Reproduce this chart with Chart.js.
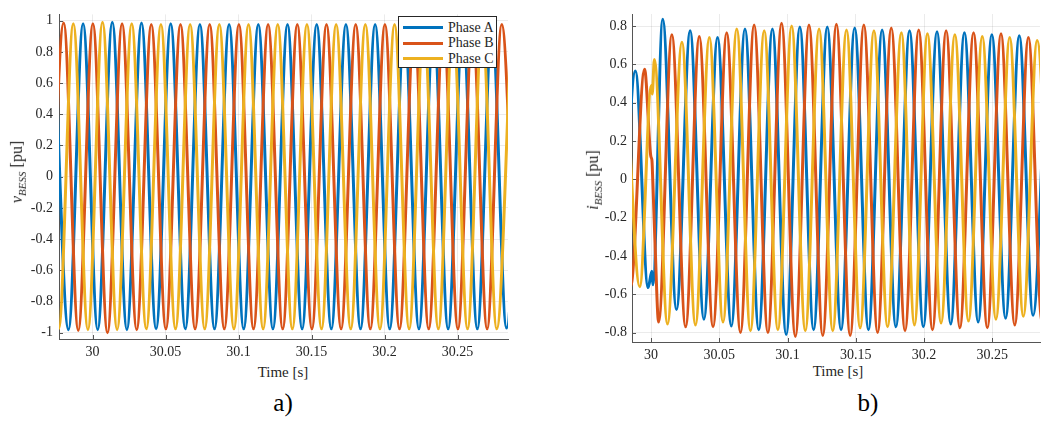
<!DOCTYPE html>
<html>
<head>
<meta charset="utf-8">
<script src="https://cdn.jsdelivr.net/npm/chart.js@4"></script>
<style>
  body { margin: 0; background: #fff; }
  #wrap { position: relative; width: 1043px; height: 421px; font-family: 'Liberation Serif', 'DejaVu Serif', serif; color: #262626; }
  canvas { position: absolute; top: 0; }
  .ylab { position: absolute; transform: translate(-50%, -50%) rotate(-90deg); white-space: nowrap; font-size: 16px; }
  .ylab sub { font-size: 11px; }
  .xlab { position: absolute; transform: translate(-50%, -50%); white-space: nowrap; font-size: 15px; }
  .cap { position: absolute; transform: translate(-50%, -50%); font-size: 25px; color: #000; }
  #legend { position: absolute; left: 398px; top: 16px; width: 97px; height: 50px; border: 1px solid #262626; background: #fff; }
  #legend .row { position: absolute; left: 4px; height: 15px; display: flex; align-items: center; font-size: 14px; }
  #legend .swatch { width: 40px; height: 3px; margin-right: 5px; }
</style>
</head>
<body>
<div id="wrap">
  <canvas id="chartV" width="520" height="362" style="left:0"></canvas>
  <canvas id="chartI" width="468" height="362" style="left:575px"></canvas>
  <div id="legend"></div>
  <div class="ylab" style="left:18px;top:172px"><i>v</i><sub><i>BESS</i></sub> [pu]</div>
  <div class="ylab" style="left:594px;top:180px"><i>i</i><sub><i>BESS</i></sub> [pu]</div>
  <div class="xlab" style="left:283px;top:372px">Time [s]</div>
  <div class="xlab" style="left:838px;top:371px">Time [s]</div>
  <div class="cap" style="left:283px;top:403px">a)</div>
  <div class="cap" style="left:868px;top:403px">b)</div>
</div>
<script>
// tick labels
const xTicks = [30, 30.05, 30.1, 30.15, 30.2, 30.25];
const yTicksV = [-1, -0.8, -0.6, -0.4, -0.2, 0, 0.2, 0.4, 0.6, 0.8, 1];
const yTicksI = [-0.8, -0.6, -0.4, -0.2, 0, 0.2, 0.4, 0.6, 0.8];

const phaseNames = ['Phase A', 'Phase B', 'Phase C'];
const phaseColors = ['#0072BD', '#D95319', '#EDB120'];

// a) voltage: peaks / troughs
const vTimeA = [29.9735, 29.9835, 29.9935, 30.0035, 30.0135, 30.0235, 30.0335, 30.0435, 30.0535, 30.0635, 30.0735,
  30.0835, 30.0935, 30.1035, 30.1135, 30.1235, 30.1335, 30.1435, 30.1535, 30.1635, 30.1735, 30.1835, 30.1935,
  30.2035, 30.2135, 30.2235, 30.2335, 30.2435, 30.2535, 30.2635, 30.2735, 30.2835, 30.2935];
const vPhaseA = [0.98, -0.98, 0.98, -0.98, 0.99, -0.98, 0.985, -0.975, 0.98, -0.975, 0.975,
  -0.975, 0.975, -0.975, 0.975, -0.975, 0.975, -0.975, 0.975, -0.975, 0.975, -0.975, 0.975,
  -0.975, 0.975, -0.975, 0.975, -0.975, 0.975, -0.975, 0.975, -0.97, 0.975];
const vTimeB = [29.9702, 29.9802, 29.9902, 30.0002, 30.0102, 30.0202, 30.0302, 30.0402, 30.0502, 30.0602, 30.0702,
  30.0802, 30.0902, 30.1002, 30.1102, 30.1202, 30.1302, 30.1402, 30.1502, 30.1602, 30.1702, 30.1802, 30.1902,
  30.2002, 30.2102, 30.2202, 30.2302, 30.2402, 30.2502, 30.2602, 30.2702, 30.2802, 30.2902];
const vPhaseB = [-0.98, 0.985, -0.985, 0.98, -1.0, 0.98, -0.98, 0.975, -0.975, 0.975, -0.975,
  0.975, -0.975, 0.975, -0.975, 0.975, -0.975, 0.975, -0.975, 0.975, -0.975, 0.975, -0.975,
  0.975, -0.975, 0.975, -0.975, 0.975, -0.975, 0.975, -0.975, 0.975, -0.975];
const vTimeC = [29.9668, 29.9768, 29.9868, 29.9968, 30.0068, 30.0168, 30.0268, 30.0368, 30.0468, 30.0568, 30.0668,
  30.0768, 30.0868, 30.0968, 30.1068, 30.1168, 30.1268, 30.1368, 30.1468, 30.1568, 30.1668, 30.1768, 30.1868,
  30.1968, 30.2068, 30.2168, 30.2268, 30.2368, 30.2468, 30.2568, 30.2668, 30.2768, 30.2868];
const vPhaseC = [0.98, -0.975, 0.98, -0.98, 0.99, -0.98, 0.98, -0.975, 0.975, -0.975, 0.975,
  -0.975, 0.975, -0.975, 0.975, -0.975, 0.975, -0.975, 0.975, -0.975, 0.975, -0.975, 0.975,
  -0.975, 0.975, -0.975, 0.975, -0.975, 0.975, -0.975, 0.975, -0.975, 0.975];

// b) current: peaks / troughs plus the few points of the transient
const iTimeA = [29.9785, 29.9885, 29.9978, 30.0006, 30.0013, 30.0085, 30.0186, 30.0286, 30.0387, 30.0487, 30.0588,
  30.0688, 30.0789, 30.0889, 30.099, 30.109, 30.1191, 30.1291, 30.1392, 30.1492, 30.1593, 30.1693, 30.1794,
  30.1894, 30.1995, 30.2095, 30.2196, 30.2296, 30.2397, 30.2497, 30.2598, 30.2698, 30.2799, 30.2899];
const iPhaseA = [-0.57, 0.565, -0.565, -0.48, -0.55, 0.835, -0.68, 0.775, -0.73, 0.74, -0.765,
  0.785, -0.785, 0.785, -0.81, 0.795, -0.785, 0.795, -0.785, 0.79, -0.785, 0.78, -0.77,
  0.775, -0.77, 0.77, -0.755, 0.765, -0.745, 0.755, -0.725, 0.75, -0.71, 0.74];
const iTimeB = [29.975, 29.985, 29.9952, 29.9998, 30.0006, 30.0012, 30.003, 30.0055, 30.0152, 30.0253, 30.0353,
  30.0454, 30.0554, 30.0655, 30.0755, 30.0856, 30.0956, 30.1057, 30.1157, 30.1258, 30.1358, 30.1459, 30.1559,
  30.166, 30.176, 30.1861, 30.1961, 30.2062, 30.2162, 30.2263, 30.2363, 30.2464, 30.2564, 30.2665, 30.2765,
  30.2866, 30.2966];
const iPhaseB = [0.57, -0.56, 0.575, 0.12, 0.10, 0.0, -0.36, -0.745, 0.755, -0.77, 0.745,
  -0.77, 0.765, -0.8, 0.805, -0.8, 0.815, -0.82, 0.805, -0.815, 0.81, -0.815, 0.805,
  -0.8, 0.79, -0.79, 0.78, -0.785, 0.775, -0.775, 0.765, -0.775, 0.76, -0.76, 0.74,
  -0.75, 0.735];
const iTimeC = [29.9817, 29.9917, 30.0002, 30.0008, 30.0024, 30.012, 30.0226, 30.0325, 30.0427, 30.0527, 30.0628,
  30.0728, 30.0829, 30.0929, 30.103, 30.113, 30.1231, 30.1331, 30.1432, 30.1532, 30.1633, 30.1733, 30.1834,
  30.193, 30.2025, 30.2125, 30.2226, 30.2326, 30.2427, 30.2527, 30.2628, 30.2728, 30.2829, 30.293];
const iPhaseC = [0.56, -0.56, 0.49, 0.445, 0.625, -0.755, 0.715, -0.76, 0.74, -0.745, 0.785,
  -0.79, 0.775, -0.785, 0.8, -0.79, 0.785, -0.79, 0.78, -0.775, 0.775, -0.77, 0.765,
  -0.76, 0.76, -0.75, 0.755, -0.74, 0.745, -0.73, 0.74, -0.715, 0.725, -0.705];

const tickFont = { family: "'Liberation Serif', 'DejaVu Serif', serif", size: 14 };

// MATLAB style inward tick marks
const innerTicks = {
  id: 'innerTicks',
  beforeDatasetsDraw(chart) {
    const { ctx, chartArea: a, scales: { x, y } } = chart;
    ctx.save();
    ctx.strokeStyle = '#555';
    ctx.lineWidth = 1;
    ctx.beginPath();
    x.ticks.forEach(t => {
      const px = Math.round(x.getPixelForValue(t.value)) + 0.5;
      ctx.moveTo(px, a.bottom);
      ctx.lineTo(px, a.bottom - 4);
    });
    y.ticks.forEach(t => {
      const py = Math.round(y.getPixelForValue(t.value)) + 0.5;
      ctx.moveTo(a.left, py);
      ctx.lineTo(a.left + 4, py);
    });
    ctx.stroke();
    ctx.restore();
  }
};

function makeSeries(times, vals) {
  return times.map((t, i) => ({ x: t, y: vals[i] }));
}

function makeChart(id, series, opts) {
  const datasets = series.map((s, i) => ({
    label: phaseNames[i],
    data: makeSeries(s[0], s[1]),
    borderColor: phaseColors[i],
    borderWidth: 3,
    pointRadius: 0,
    cubicInterpolationMode: 'monotone',
    fill: false,
    clip: 0,
    order: 3 - i
  }));
  return new Chart(document.getElementById(id), {
    type: 'line',
    data: { datasets },
    options: {
      responsive: false,
      animation: false,
      layout: { padding: { top: opts.top, right: opts.right, left: 0, bottom: 0 } },
      plugins: { legend: { display: false }, tooltip: { enabled: false } },
      scales: {
        x: {
          type: 'linear',
          min: opts.xmin,
          max: opts.xmax,
          afterBuildTicks: s => { s.ticks = xTicks.map(v => ({ value: v })); },
          afterFit: s => { s.height = opts.xh; },
          grid: { color: 'rgba(0,0,0,0.08)', drawTicks: false },
          border: { color: '#555', width: 1 },
          ticks: {
            font: tickFont, color: '#262626', padding: 5, autoSkip: false, maxRotation: 0,
            callback: v => String(Math.round(v * 100) / 100)
          }
        },
        y: {
          min: opts.ymin,
          max: opts.ymax,
          afterBuildTicks: s => { s.ticks = opts.yTicks.map(v => ({ value: v })); },
          afterFit: s => { s.width = opts.yw; },
          grid: { color: 'rgba(0,0,0,0.08)', drawTicks: false },
          border: { color: '#555', width: 1 },
          ticks: {
            font: tickFont, color: '#262626', padding: opts.ypad, autoSkip: false,
            callback: v => String(Math.round(v * 10) / 10)
          }
        }
      }
    },
    plugins: [innerTicks]
  });
}

makeChart('chartV', [[vTimeA, vPhaseA], [vTimeB, vPhaseB], [vTimeC, vPhaseC]], {
  xmin: 29.977, xmax: 30.2845, ymin: -1.04, ymax: 1.04, yTicks: yTicksV,
  top: 6, right: 12, xh: 23, yw: 59, ypad: 6
});

makeChart('chartI', [[iTimeA, iPhaseA], [iTimeB, iPhaseB], [iTimeC, iPhaseC]], {
  xmin: 29.986, xmax: 30.285, ymin: -0.849, ymax: 0.863, yTicks: yTicksI,
  top: 14, right: 3, xh: 20, yw: 57, ypad: 5
});

// legend box for panel a
const legend = document.getElementById('legend');
phaseNames.forEach((name, i) => {
  const row = document.createElement('div');
  row.className = 'row';
  row.style.top = (3 + i * 15.5) + 'px';
  row.innerHTML = '<span class="swatch" style="background:' + phaseColors[i] + '"></span>' + name;
  legend.appendChild(row);
});
</script>
</body>
</html>
